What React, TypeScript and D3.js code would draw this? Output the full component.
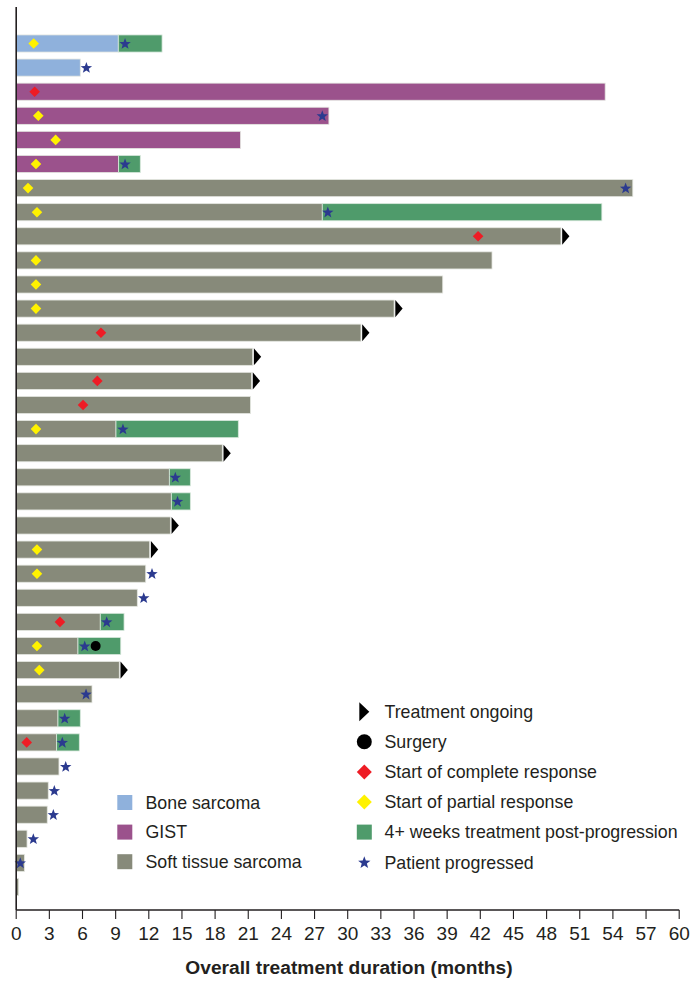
import React from "react";
import * as d3 from "d3";

// ---- Data (one entry per patient row, top to bottom) ----
const tumourType = [
  "Bone", "Bone",
  "GIST", "GIST", "GIST", "GIST",
  "STS", "STS", "STS", "STS", "STS", "STS", "STS", "STS", "STS", "STS",
  "STS", "STS", "STS", "STS", "STS", "STS", "STS", "STS", "STS", "STS",
  "STS", "STS", "STS", "STS", "STS", "STS", "STS", "STS", "STS", "STS",
];
// end of treatment before progression (months)
const treatmentEnd = [
  9.24, 5.8,
  53.3, 28.3, 20.3, 9.27,
  55.8, 27.7, 49.3, 43.06, 38.6, 34.2, 31.2, 21.4, 21.3, 21.2,
  9.03, 18.65, 13.86, 14.04, 13.95, 12.08, 11.72, 10.96, 7.61, 5.59,
  9.33, 6.86, 3.78, 3.66, 3.87, 2.9, 2.81, 0.98, 0.74, 0.22,
];
// end of 4+ weeks post-progression treatment (null = none)
const postProgressionEnd: (number | null)[] = [
  13.2, null,
  null, null, null, 11.23,
  null, 53.0, null, null, null, null, null, null, null, null,
  20.1, null, 15.76, 15.76, null, null, null, null, 9.76, 9.46,
  null, null, 5.8, 5.71, null, null, null, null, null, null,
];
const ongoing = [
  false, false,
  false, false, false, false,
  false, false, true, false, false, true, true, true, true, false,
  false, true, false, false, true, true, false, false, false, false,
  true, false, false, false, false, false, false, false, false, false,
];
const partialResponse: (number | null)[] = [
  1.58, null,
  null, 2.0, 3.57, 1.79,
  1.07, 1.88, null, 1.79, 1.79, 1.79, null, null, null, null,
  1.79, null, null, null, null, 1.88, 1.88, null, null, 1.88,
  2.09, null, null, null, null, null, null, null, null, null,
];
const completeResponse: (number | null)[] = [
  null, null,
  1.67, null, null, null,
  null, null, 41.8, null, null, null, 7.67, null, 7.34, 6.05,
  null, null, null, null, null, null, null, null, 3.96, null,
  null, null, null, 0.95, null, null, null, null, null, null,
];
const progressed: (number | null)[] = [
  9.85, 6.35,
  null, 27.7, null, 9.85,
  55.15, 28.2, null, null, null, null, null, null, null, null,
  9.66, null, 14.4, 14.6, null, null, 12.29, 11.54, 8.19, 6.2,
  null, 6.32, 4.39, 4.17, 4.48, 3.45, 3.36, 1.55, 0.37, null,
];
const surgery: (number | null)[] = [
  null, null,
  null, null, null, null,
  null, null, null, null, null, null, null, null, null, null,
  null, null, null, null, null, null, null, null, null, 7.19,
  null, null, null, null, null, null, null, null, null, null,
];

const xTicks = d3.range(0, 61, 3);

const typeLegend = [
  { key: "Bone", label: "Bone sarcoma" },
  { key: "GIST", label: "GIST" },
  { key: "STS", label: "Soft tissue sarcoma" },
];
const markerLegend = [
  { key: "ongoing", label: "Treatment ongoing" },
  { key: "surgery", label: "Surgery" },
  { key: "complete", label: "Start of complete response" },
  { key: "partial", label: "Start of partial response" },
  { key: "post", label: "4+ weeks treatment post-progression" },
  { key: "progressed", label: "Patient progressed" },
];

// ---- Styling ----
const typeColor: Record<string, string> = {
  Bone: "#8fb1dc",
  GIST: "#9b528c",
  STS: "#878a7a",
};
const GREEN = "#4f9b6b";
const STAR = "#2b3a8f";
const RED = "#ee1c25";
const YELLOW = "#fff200";
const TEXT = "#231f20";
const FONT = "'Liberation Sans', Arial, Helvetica, sans-serif";

function starPath(cx: number, cy: number, R: number, r: number) {
  const pts: string[] = [];
  for (let i = 0; i < 10; i++) {
    const a = -Math.PI / 2 + (i * Math.PI) / 5;
    const rad = i % 2 === 0 ? R : r;
    pts.push(`${(cx + rad * Math.cos(a)).toFixed(2)},${(cy + rad * Math.sin(a)).toFixed(2)}`);
  }
  return "M" + pts.join("L") + "Z";
}
function diamondPath(cx: number, cy: number, h: number) {
  return `M${cx},${cy - h}L${cx + h},${cy}L${cx},${cy + h}L${cx - h},${cy}Z`;
}

export default function App() {
  const W = 691;
  const H = 984;
  const x = d3.scaleLinear().domain([0, 60]).range([16.2, 679.2]);
  const rows = d3.range(tumourType.length);
  const y = d3
    .scaleBand<number>()
    .domain(rows)
    .range([31.45, 899.05])
    .paddingInner(0.29)
    .paddingOuter(0.145);
  const bh = y.bandwidth();
  const axisY = 910;
  const x0 = x(0);
  const LEG_FS = 17.8;

  const markerIcon = (key: string, cx: number, cy: number) => {
    switch (key) {
      case "ongoing":
        return <path d={`M${cx - 5},${cy - 9.5}L${cx + 5},${cy}L${cx - 5},${cy + 9.5}Z`} fill="#000" />;
      case "surgery":
        return <circle cx={cx} cy={cy} r={7.5} fill="#000" />;
      case "complete":
        return <path d={diamondPath(cx, cy, 7.5)} fill={RED} />;
      case "partial":
        return <path d={diamondPath(cx, cy, 7.5)} fill={YELLOW} />;
      case "post":
        return <rect x={cx - 7.5} y={cy - 7.5} width={15} height={15} fill={GREEN} />;
      case "progressed":
        return <path d={starPath(cx, cy + 0.5, 6.5, 2.7)} fill={STAR} />;
    }
    return null;
  };

  return (
    <svg
      width={W}
      height={H}
      style={{ position: "absolute", left: 0, top: 0, background: "#fff" }}
      fontFamily={FONT}
    >
      {/* bars */}
      {rows.map((i) => {
        const top = y(i)!;
        const cy = top + bh / 2;
        const end = treatmentEnd[i];
        const post = postProgressionEnd[i];
        const barEnd = post != null ? post : end;
        return (
          <g key={i}>
            <rect
              x={x0}
              y={top}
              width={x(end) - x0}
              height={bh}
              fill={typeColor[tumourType[i]]}
              stroke="#e4e6e0"
              strokeWidth={0.8}
            />
            {post != null && (
              <rect
                x={x(end)}
                y={top}
                width={x(post) - x(end)}
                height={bh}
                fill={GREEN}
                stroke="#d8e8dc"
                strokeWidth={0.8}
              />
            )}
            {ongoing[i] && (
              <path
                d={`M${x(barEnd) + 1.2},${top}L${x(barEnd) + 8.5},${cy}L${x(barEnd) + 1.2},${top + bh}Z`}
                fill="#000"
              />
            )}
            {partialResponse[i] != null && (
              <path d={diamondPath(x(partialResponse[i]!), cy, 5.3)} fill={YELLOW} />
            )}
            {completeResponse[i] != null && (
              <path d={diamondPath(x(completeResponse[i]!), cy, 5.3)} fill={RED} />
            )}
            {progressed[i] != null && (
              <path d={starPath(x(progressed[i]!), cy + 0.4, 6, 2.5)} fill={STAR} />
            )}
            {surgery[i] != null && <circle cx={x(surgery[i]!)} cy={cy} r={5} fill="#000" />}
          </g>
        );
      })}

      {/* y axis line */}
      <line x1={x0} x2={x0} y1={7} y2={axisY} stroke="#231f20" strokeWidth={1.6} />
      {/* x axis */}
      <line x1={x0} x2={x(60)} y1={axisY} y2={axisY} stroke="#231f20" strokeWidth={1.3} />
      {xTicks.map((t) => (
        <g key={t} transform={`translate(${x(t)},0)`}>
          <line y1={axisY} y2={axisY + 9} stroke="#231f20" strokeWidth={1.1} />
          <text y={940} textAnchor="middle" fontSize={19} fill={TEXT}>
            {t}
          </text>
        </g>
      ))}
      <text
        x={349}
        y={974}
        textAnchor="middle"
        fontSize={19.2}
        fontWeight="bold"
        fill={TEXT}
      >
        Overall treatment duration (months)
      </text>

      {/* tumour type legend */}
      {typeLegend.map((d, k) => {
        const cy = 802.5 + k * 29.6;
        return (
          <g key={d.key}>
            <rect x={117.3} y={cy - 7.5} width={15} height={15} fill={typeColor[d.key]} />
            <text x={145.5} y={cy + 6.3} fontSize={LEG_FS} fill={TEXT}>
              {d.label}
            </text>
          </g>
        );
      })}

      {/* marker legend */}
      {markerLegend.map((d, k) => {
        const cy = 711.7 + k * 30.1;
        return (
          <g key={d.key}>
            {markerIcon(d.key, 364.3, cy)}
            <text x={384.5} y={cy + 6.3} fontSize={LEG_FS} fill={TEXT}>
              {d.label}
            </text>
          </g>
        );
      })}
    </svg>
  );
}
